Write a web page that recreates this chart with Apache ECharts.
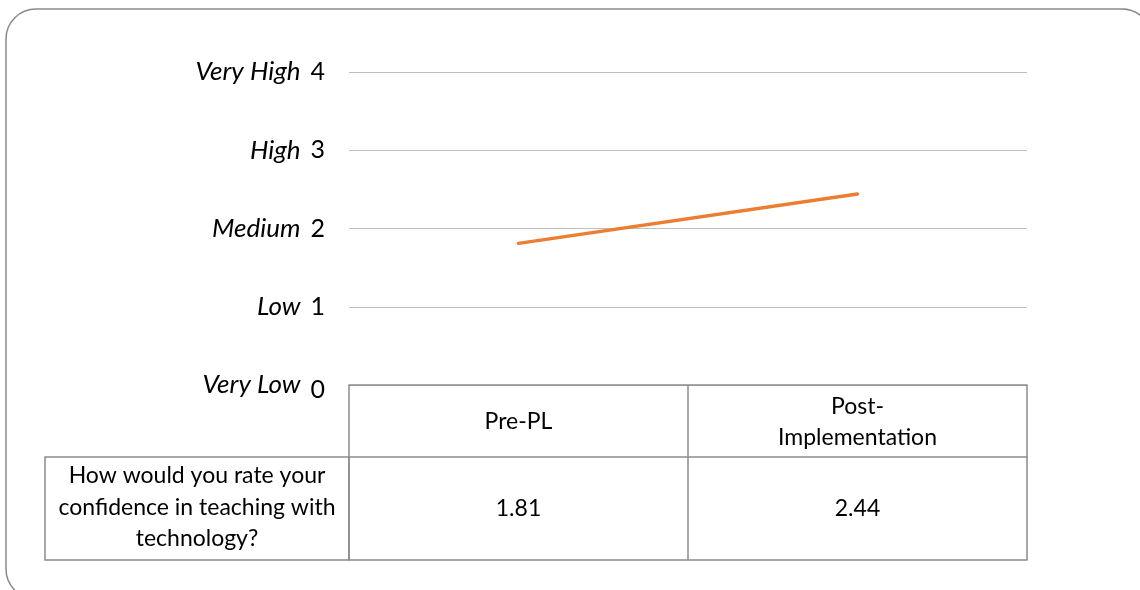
<!DOCTYPE html>
<html>
<head>
<meta charset="utf-8">
<script src="https://cdn.jsdelivr.net/npm/echarts@6/dist/echarts.min.js"></script>
<style>
  html, body { margin: 0; padding: 0; background: #fff; }
  #chart { width: 1140px; height: 590px; }
</style>
</head>
<body>
<div id="chart"></div>
<script>
// Survey question and its two measurement points
const question = 'How would you rate your\nconfidence in teaching with\ntechnology?';
const categories = ['Pre-PL', 'Post-Implementation'];
const ratings = [1.81, 2.44];

// Rating scale (0..4) and the word shown beside each number
const scaleValues = [0, 1, 2, 3, 4];
const scaleNames = ['Very Low', 'Low', 'Medium', 'High', 'Very High'];

const FONT = 'Lato';
const TEXT = '#000000';
const BORDER = '#8c8c8c';
const GRID = '#bfbfbf';
const TABLE_FS = 23;
const SCALE_FS = 26;

// Geometry of the chart area and data table rows
const G = { left: 349, right: 113, top: 72, bottom: 205 };
const HEADER_H = 72;   // header row (category names)
const VALUE_H = 103;   // value row

const chart = echarts.init(document.getElementById('chart'), null, { renderer: 'canvas' });

const option = {
  animation: false,
  backgroundColor: '#ffffff',
  grid: G,
  xAxis: [
    {
      // header row: category names, cell dividers drawn as ticks
      type: 'category',
      data: categories,
      position: 'bottom',
      boundaryGap: true,
      axisLine: { show: true, lineStyle: { color: BORDER, width: 1.5 } },
      axisTick: { show: true, length: HEADER_H, lineStyle: { color: BORDER, width: 1.5 } },
      axisLabel: {
        margin: HEADER_H / 2 + 1,
        fontFamily: FONT, fontSize: TABLE_FS, color: TEXT, lineHeight: 31,
        verticalAlign: 'middle',
        formatter: v => v.length > 12 ? v.replace('-', '-\n') : v
      },
      splitLine: { show: false }
    },
    {
      // value row: the plotted ratings
      type: 'category',
      data: ratings.map(v => v.toFixed(2)),
      position: 'bottom',
      offset: HEADER_H,
      boundaryGap: true,
      axisLine: { show: true, lineStyle: { color: BORDER, width: 1.5 } },
      axisTick: { show: true, length: VALUE_H, lineStyle: { color: BORDER, width: 1.5 } },
      axisLabel: {
        margin: VALUE_H / 2,
        fontFamily: FONT, fontSize: TABLE_FS, color: TEXT,
        verticalAlign: 'middle'
      },
      splitLine: { show: false }
    },
    {
      // bottom edge of the table
      type: 'category',
      data: categories,
      position: 'bottom',
      offset: HEADER_H + VALUE_H,
      axisLine: { show: true, lineStyle: { color: BORDER, width: 1.5 } },
      axisTick: { show: false },
      axisLabel: { show: false },
      splitLine: { show: false }
    }
  ],
  yAxis: {
    type: 'value',
    min: 0, max: 4, interval: 1,
    axisLine: { show: false },
    axisTick: { show: false },
    splitLine: { show: true, lineStyle: { color: GRID, width: 1.2 } },
    axisLabel: {
      margin: 24,
      formatter: v => {
        const i = scaleValues.indexOf(v);
        const num = v === 0 ? '{numLow|' + v + '}' : '{num|' + v + '}';
        return '{name|' + scaleNames[i] + '}' + num;
      },
      rich: {
        name: { fontFamily: FONT, fontStyle: 'italic', fontSize: SCALE_FS, color: TEXT, padding: [0, 10, 0, 0] },
        num: { fontFamily: FONT, fontSize: SCALE_FS - 1, color: TEXT },
        numLow: { fontFamily: FONT, fontSize: SCALE_FS - 1, color: TEXT, padding: [10, 0, 0, 0] }
      }
    }
  },
  series: [
    {
      type: 'line',
      data: ratings,
      xAxisIndex: 0,
      showSymbol: false,
      symbol: 'none',
      lineStyle: { color: '#ED7D31', width: 3.5, cap: 'round' },
      silent: true
    }
  ],
  graphic: [
    {
      // rounded outer frame
      type: 'rect',
      shape: { x: 6, y: 9, width: 1146, height: 590, r: 30 },
      style: { fill: 'none', stroke: '#8a8a8a', lineWidth: 1.5 },
      silent: true
    }
  ]
};

chart.setOption(option);

// Row-header cell of the data table, aligned to the value row of the x axis
function drawRowHeader() {
  const y0 = chart.convertToPixel({ yAxisIndex: 0 }, 0);
  const c0 = chart.convertToPixel({ xAxisIndex: 0 }, 0);
  const c1 = chart.convertToPixel({ xAxisIndex: 0 }, 1);
  const xLeftEdge = c0 - (c1 - c0) / 2;
  const top = y0 + HEADER_H;
  const cellLeft = 45;
  chart.setOption({
    graphic: [
      option.graphic[0],
      {
        type: 'rect',
        shape: { x: cellLeft, y: top, width: xLeftEdge - cellLeft, height: VALUE_H },
        style: { fill: 'none', stroke: BORDER, lineWidth: 1.5 },
        silent: true
      },
      {
        type: 'text',
        x: (cellLeft + xLeftEdge) / 2,
        y: top + VALUE_H / 2 - 1,
        style: {
          text: question,
          fontFamily: FONT, fontSize: TABLE_FS, fill: TEXT, lineHeight: 31.5,
          align: 'center', verticalAlign: 'middle'
        },
        silent: true
      }
    ]
  });
}
drawRowHeader();
</script>
</body>
</html>
